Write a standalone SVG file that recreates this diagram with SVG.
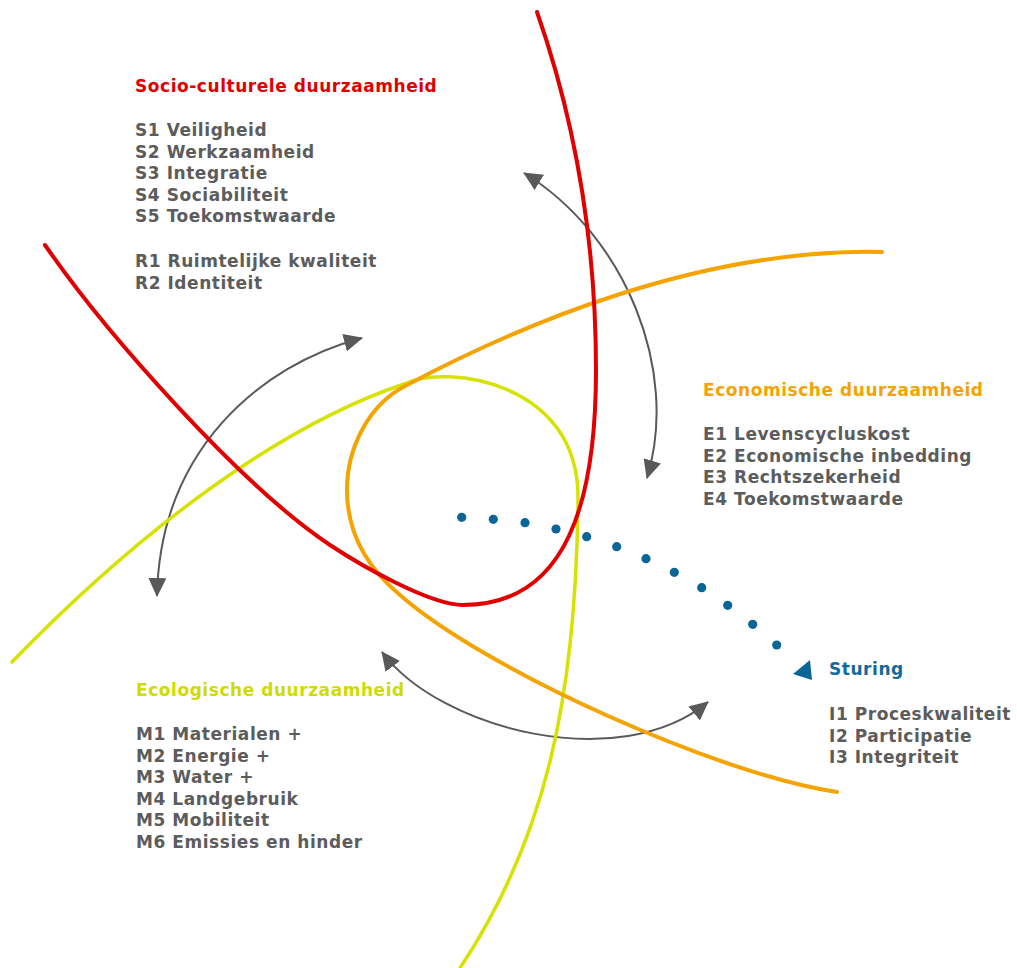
<svg xmlns="http://www.w3.org/2000/svg" width="1017" height="968" viewBox="0 0 1017 968">
  <defs>
    <style>
      .txt { font-family: "DejaVu Sans", Verdana, sans-serif; font-weight: bold; font-size: 17px; letter-spacing: 0.55px; }
      .item { fill: #5c5c5c; }
      .t-red { fill: #e00000; }
      .t-orange { fill: #f5a300; }
      .t-yellow { fill: #cfdc00; }
      .t-blue { fill: #11699c; }
      .curve { fill: none; stroke-linecap: round; }
      .c-red { stroke: #e00000; stroke-width: 4; }
      .c-orange { stroke: #f5a300; stroke-width: 4; }
      .c-yellow { stroke: #d6e300; stroke-width: 3.5; }
      .link { fill: none; stroke: #595959; stroke-width: 2; marker-start: url(#head); marker-end: url(#head); }
      .dot { fill: #0b6698; }
    </style>
    <marker id="head" viewBox="0 0 19 18" markerWidth="19" markerHeight="18" refX="18" refY="9" orient="auto-start-reverse" markerUnits="userSpaceOnUse">
      <path d="M0,0 L19,9 L0,18 Z" fill="#595959"/>
    </marker>
  </defs>

  <rect width="1017" height="968" fill="#ffffff"/>

  <!-- connectors: double-headed curved arrows -->
  <g id="connectors">
    <path class="link" d="M524,173 C625,235 680,370 647,478"/>
    <path class="link" d="M362,338 C260,365 160,450 157,596"/>
    <path class="link" d="M382,652 C440,730 620,775 708,702"/>
  </g>

  <!-- three sustainability curves around a shared core -->
  <g id="curve-ecologisch">
    <path class="curve c-yellow" d="M12,662 C140,530 280,425 407,383 C445,365 580,380 578,500 C576,700 545,840 460,968"/>
  </g>
  <g id="curve-economisch">
    <path class="curve c-orange" d="M882,252 C700,248 520,325 407,385 C367,405 347,450 347,490 C347,535 370,570 400,595 C485,670 720,775 837,792"/>
  </g>
  <g id="curve-socio">
    <path class="curve c-red" d="M537,12 C579,132 596,250 596,370 C596,500 568,605 463,605 C430,605 360,565 330,545 C240,485 105,332 45,245"/>
  </g>

  <!-- governance: dotted path ending in a triangle -->
  <g id="sturing-pad">
    <circle class="dot" cx="461.7" cy="517.3" r="4.6"/>
    <circle class="dot" cx="493.3" cy="519.3" r="4.6"/>
    <circle class="dot" cx="525" cy="522.7" r="4.6"/>
    <circle class="dot" cx="556" cy="529" r="4.6"/>
    <circle class="dot" cx="586.7" cy="536.7" r="4.6"/>
    <circle class="dot" cx="616.7" cy="546.7" r="4.6"/>
    <circle class="dot" cx="646" cy="558.7" r="4.6"/>
    <circle class="dot" cx="674.3" cy="572.3" r="4.6"/>
    <circle class="dot" cx="701.7" cy="587.7" r="4.6"/>
    <circle class="dot" cx="727.7" cy="605.3" r="4.6"/>
    <circle class="dot" cx="752.7" cy="624.3" r="4.6"/>
    <circle class="dot" cx="776.7" cy="645" r="4.6"/>
    <polygon class="dot" points="793,674 810,660 812,680"/>
  </g>

  <g id="socio" class="txt">
    <text class="t-red" x="135" y="92">Socio-culturele duurzaamheid</text>
    <text class="item" x="135" y="136">S1 Veiligheid</text>
    <text class="item" x="135" y="157.6">S2 Werkzaamheid</text>
    <text class="item" x="135" y="179.2">S3 Integratie</text>
    <text class="item" x="135" y="200.8">S4 Sociabiliteit</text>
    <text class="item" x="135" y="222.4">S5 Toekomstwaarde</text>
    <text class="item" x="135" y="267">R1 Ruimtelijke kwaliteit</text>
    <text class="item" x="135" y="288.6">R2 Identiteit</text>
  </g>

  <g id="economisch" class="txt">
    <text class="t-orange" x="703" y="396">Economische duurzaamheid</text>
    <text class="item" x="703" y="440">E1 Levenscycluskost</text>
    <text class="item" x="703" y="461.6">E2 Economische inbedding</text>
    <text class="item" x="703" y="483.2">E3 Rechtszekerheid</text>
    <text class="item" x="703" y="504.8">E4 Toekomstwaarde</text>
  </g>

  <g id="ecologisch" class="txt">
    <text class="t-yellow" x="136" y="696">Ecologische duurzaamheid</text>
    <text class="item" x="136" y="740">M1 Materialen +</text>
    <text class="item" x="136" y="761.6">M2 Energie +</text>
    <text class="item" x="136" y="783.2">M3 Water +</text>
    <text class="item" x="136" y="804.8">M4 Landgebruik</text>
    <text class="item" x="136" y="826.4">M5 Mobiliteit</text>
    <text class="item" x="136" y="848">M6 Emissies en hinder</text>
  </g>

  <g id="sturing" class="txt">
    <text class="t-blue" x="829" y="675">Sturing</text>
    <text class="item" x="829" y="720">I1 Proceskwaliteit</text>
    <text class="item" x="829" y="741.6">I2 Participatie</text>
    <text class="item" x="829" y="763.2">I3 Integriteit</text>
  </g>
</svg>
